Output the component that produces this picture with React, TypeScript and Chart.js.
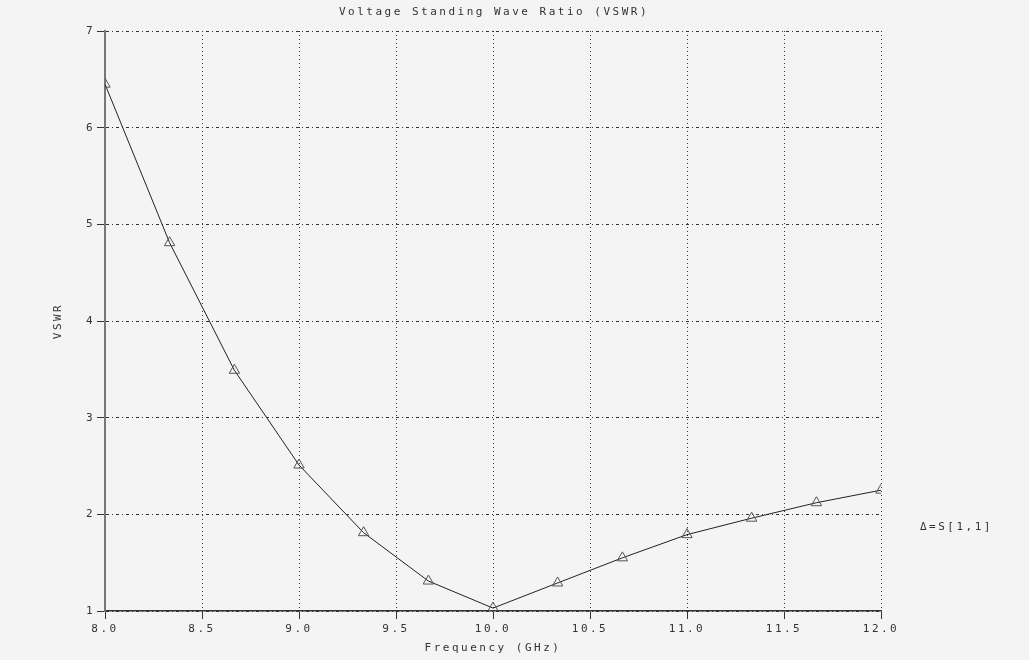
import React, { useEffect, useRef } from "react";
import { Chart, registerables } from "chart.js";

Chart.register(...registerables);

const frequencies = [8.0, 8.333, 8.667, 9.0, 9.333, 9.667, 10.0, 10.333, 10.667, 11.0, 11.333, 11.667, 12.0];
const vswrS11 = [6.45, 4.81, 3.49, 2.51, 1.81, 1.31, 1.03, 1.29, 1.55, 1.79, 1.96, 2.12, 2.25];
const chartTitle = "Voltage Standing Wave Ratio (VSWR)";
const xTitle = "Frequency (GHz)";
const yTitle = "VSWR";
const legendLabel = "Δ=S[1,1]";

const FONT = "'DejaVu Sans Mono', 'Liberation Mono', monospace";
const BG = "#f4f4f4";

const bgPlugin = {
  id: "bgAndSpacing",
  beforeLayout(chart: any) {
    (chart.ctx as any).letterSpacing = "2.5px";
  },
  beforeDraw(chart: any) {
    const ctx = chart.ctx;
    ctx.save();
    ctx.fillStyle = BG;
    ctx.fillRect(0, 0, chart.width, chart.height);
    ctx.restore();
    (ctx as any).letterSpacing = "2.5px";
  },
  afterDraw(chart: any) {
    const ctx = chart.ctx;
    const ca = chart.chartArea;
    const ys = chart.scales.y;
    ctx.save();
    (ctx as any).letterSpacing = "2.5px";
    ctx.font = `11px ${FONT}`;
    ctx.fillStyle = "#333";
    ctx.textBaseline = "middle";
    ctx.textAlign = "center";
    ctx.fillText(chartTitle, (ca.left + ca.right) / 2 + 1, 12);
    ctx.textAlign = "left";
    ctx.fillText(legendLabel, ca.right + 39, ys.getPixelForValue(1.87));
    ctx.restore();
  },
};

export default function App() {
  const ref = useRef<HTMLCanvasElement>(null);
  useEffect(() => {
    if (!ref.current) return;
    const data = frequencies.map((f, i) => ({ x: f, y: vswrS11[i] }));
    const chart = new Chart(ref.current, {
      type: "line",
      data: {
        datasets: [
          {
            label: legendLabel,
            data,
            borderColor: "#222",
            borderWidth: 1,
            pointStyle: "triangle",
            pointRadius: 6,
            pointBorderColor: "#555",
            pointBorderWidth: 1,
            pointBackgroundColor: "rgba(0,0,0,0)",
            tension: 0,
          },
        ],
      },
      options: {
        responsive: false,
        animation: false,
        layout: { padding: { left: 0, right: 148, top: 31, bottom: 0 } },
        plugins: {
          legend: { display: false },
          tooltip: { enabled: false },
          title: { display: false },
        },
        scales: {
          x: {
            type: "linear",
            min: 8,
            max: 12,
            afterFit(scale: any) {
              scale.height = 49;
            },
            ticks: {
              stepSize: 0.5,
              color: "#333",
              font: { family: FONT, size: 11 },
              padding: 4,
              maxRotation: 0,
              callback: (v: any) => Number(v).toFixed(1),
            },
            grid: {
              color: "#333",
              lineWidth: 1,
              tickLength: 8,
              tickColor: "#333",
            },
            border: { color: "#333", width: 1.5, dash: [1, 3] },
            title: {
              display: true,
              text: xTitle,
              color: "#333",
              font: { family: FONT, size: 11 },
              padding: { top: 5, bottom: 5 },
            },
          },
          y: {
            type: "linear",
            min: 1,
            max: 7,
            afterFit(scale: any) {
              scale.width = 105;
            },
            ticks: {
              stepSize: 1,
              color: "#333",
              font: { family: FONT, size: 11 },
              padding: 2,
            },
            grid: {
              color: "#333",
              lineWidth: 1,
              tickLength: 8,
              tickColor: "#333",
            },
            border: { color: "#777", width: 2, dash: [3, 3, 1, 3] },
            title: {
              display: true,
              text: yTitle,
              color: "#333",
              font: { family: FONT, size: 11 },
              padding: { top: 52, bottom: 0 },
            },
          },
        },
      },
      plugins: [bgPlugin],
    } as any);
    return () => chart.destroy();
  }, []);
  return (
    <div style={{ position: "absolute", left: 0, top: 0, width: 1029, height: 660, background: BG }}>
      <canvas ref={ref} width={1029} height={660} />
    </div>
  );
}
